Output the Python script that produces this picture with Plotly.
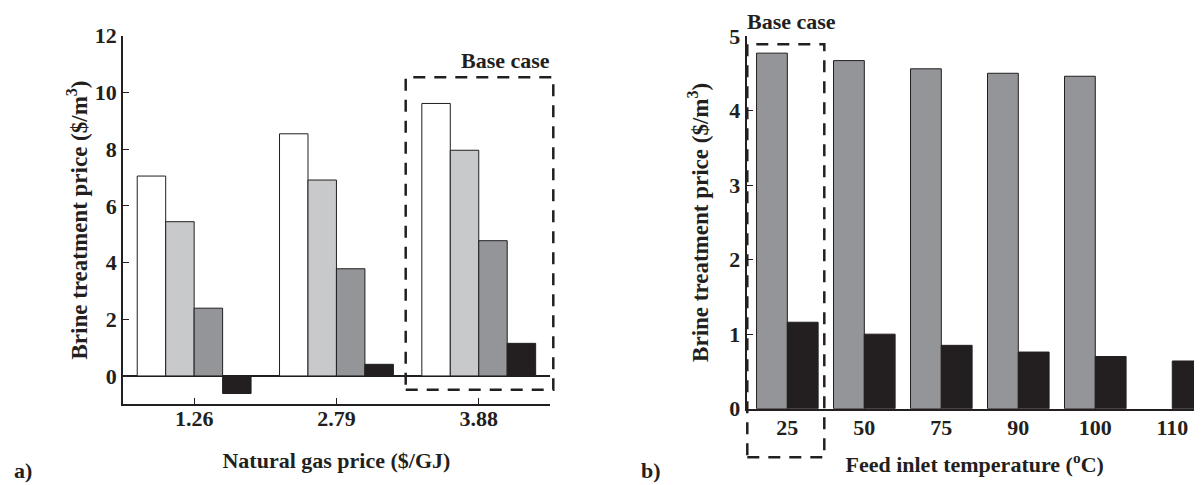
import plotly.graph_objects as go

# ---- Data (panel a) ----
gas_prices = ["1.26", "2.79", "3.88"]
series_a1 = [7.05, 8.54, 9.61]     # white
series_a2 = [5.44, 6.91, 7.96]     # light gray
series_a3 = [2.39, 3.78, 4.77]     # dark gray
series_a4 = [-0.62, 0.41, 1.15]    # black

# ---- Data (panel b) ----
feed_temps = ["25", "50", "75", "90", "100", "110"]
series_b1 = [4.77, 4.67, 4.56, 4.50, 4.46, None]   # gray
series_b2 = [1.16, 1.00, 0.85, 0.76, 0.70, 0.64]   # black

# page body has an 8px margin; size figure so that it ends at the window edge
OFF = 8
W, H = 1202 - OFF, 485 - OFF
FONT = "Liberation Serif, Times New Roman, serif"
EDGE = "#231F20"
colors_a = ["#FFFFFF", "#C8C9CA", "#939598", "#231F20"]
colors_b = ["#939598", "#231F20"]

def px_x(p):
    return (p - OFF) / W

def px_y(p):
    return 1 - (p - OFF) / H

fig = go.Figure()

for vals, col in zip([series_a1, series_a2, series_a3, series_a4], colors_a):
    fig.add_trace(go.Bar(x=gas_prices, y=vals, marker=dict(color=col, line=dict(color=EDGE, width=1)),
                         xaxis="x", yaxis="y", showlegend=False))

for vals, col in zip([series_b1, series_b2], colors_b):
    fig.add_trace(go.Bar(x=feed_temps, y=vals, marker=dict(color=col, line=dict(color=EDGE, width=1)),
                         xaxis="x2", yaxis="y2", showlegend=False))

FS = 22
tickfont = dict(family=FONT, size=FS, color="#231F20", weight="bold")
titlefont = dict(family=FONT, size=FS, color="#231F20", weight="bold")
ytitlefont = dict(family=FONT, size=23, color="#231F20", weight="bold")

fig.update_layout(
    width=W, height=H,
    margin=dict(l=0, r=0, t=0, b=0, autoexpand=False),
    paper_bgcolor="white", plot_bgcolor="white",
    barmode="group", bargap=0.2, bargroupgap=0,
    xaxis=dict(domain=[px_x(123), px_x(549.9)], anchor="y", type="category", automargin=False,
               range=[-0.5, 2.5], showline=True, linecolor=EDGE, linewidth=1.5,
               ticks="inside", ticklen=7, tickcolor=EDGE, tickwidth=1,
               tickfont=tickfont, showgrid=False, ticklabelstandoff=-6,
               title=dict(text="Natural gas price ($/GJ)", font=titlefont, standoff=22)),
    yaxis=dict(domain=[px_y(404.3), px_y(35.7)], anchor="x", automargin=False,
               range=[-1, 12], tickmode="array", tickvals=[0, 2, 4, 6, 8, 10, 12],
               showline=True, linecolor=EDGE, linewidth=1.5,
               ticks="inside", ticklen=6, tickcolor=EDGE, tickwidth=1,
               tickfont=tickfont, showgrid=False, ticklabelstandoff=0,
               zeroline=True, zerolinecolor=EDGE, zerolinewidth=1.5,
               title=dict(text="Brine treatment price ($/m<sup>3</sup>)", font=ytitlefont, standoff=1)),
    xaxis2=dict(domain=[px_x(747.3), 1.0], anchor="y2", type="category", automargin=False,
                range=[-0.52, 5.386], showline=True, linecolor=EDGE, linewidth=1.5,
                ticks="", tickfont=tickfont, showgrid=False, ticklabelstandoff=-2,
                title=dict(text="Feed inlet temperature (<sup>o</sup>C)", font=titlefont, standoff=18)),
    yaxis2=dict(domain=[px_y(408.7), px_y(36)], anchor="x2", automargin=False,
                range=[0, 5], tickmode="array", tickvals=[0, 1, 2, 3, 4, 5],
                showline=True, linecolor=EDGE, linewidth=1.5,
                ticks="inside", ticklen=6, tickcolor=EDGE, tickwidth=1,
                tickfont=tickfont, showgrid=False, zeroline=False, ticklabelstandoff=1,
                title=dict(text="Brine treatment price ($/m<sup>3</sup>)", font=ytitlefont, standoff=14)),
)

dash = "12px,9px"
# Base-case boxes
fig.add_shape(type="rect", xref="paper", yref="paper",
              x0=px_x(405.7), x1=px_x(553.3), y0=px_y(389.7), y1=px_y(77.3),
              line=dict(color=EDGE, width=2.5, dash=dash), fillcolor="rgba(0,0,0,0)")
fig.add_shape(type="rect", xref="paper", yref="paper",
              x0=px_x(747.3), x1=px_x(824.3), y0=px_y(457.3), y1=px_y(44.3),
              line=dict(color=EDGE, width=2.5, dash=dash), fillcolor="rgba(0,0,0,0)")

annfont = dict(family=FONT, size=FS, color="#231F20", weight="bold")
fig.add_annotation(text="Base case", xref="paper", yref="paper", x=px_x(505), y=px_y(60),
                   showarrow=False, font=annfont, xanchor="center", yanchor="middle")
fig.add_annotation(text="Base case", xref="paper", yref="paper", x=px_x(791), y=px_y(21),
                   showarrow=False, font=annfont, xanchor="center", yanchor="middle")
fig.add_annotation(text="a)", xref="paper", yref="paper", x=px_x(23), y=px_y(470),
                   showarrow=False, font=annfont, xanchor="center", yanchor="middle")
fig.add_annotation(text="b)", xref="paper", yref="paper", x=px_x(651), y=px_y(470),
                   showarrow=False, font=annfont, xanchor="center", yanchor="middle")

fig.write_html("out.html")
